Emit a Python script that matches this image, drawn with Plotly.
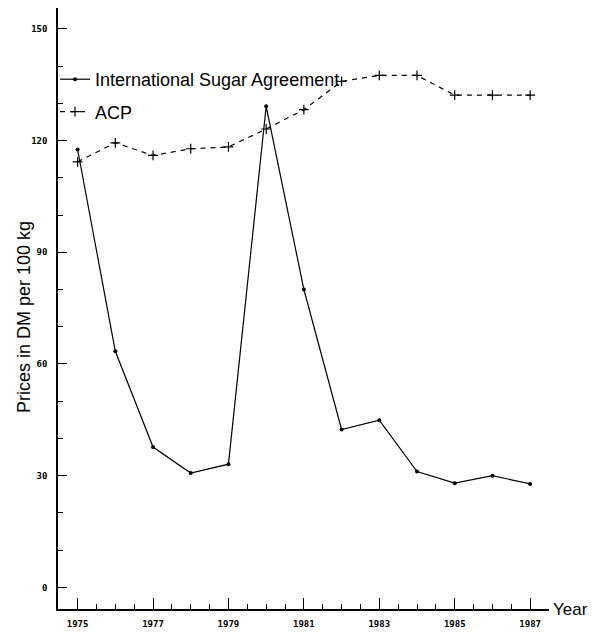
import plotly.graph_objects as go

years = list(range(1975, 1988))
isa_prices = [117.6, 63.4, 37.7, 30.7, 33.1, 129.2, 80.0, 42.4, 44.9, 31.1, 28.0, 30.0, 27.8]
acp_prices = [114.3, 119.4, 116.0, 117.8, 118.3, 123.1, 128.3, 135.9, 137.5, 137.5, 132.2, 132.2, 132.2]
y_ticks = [0, 30, 60, 90, 120, 150]
x_ticks = [1975, 1977, 1979, 1981, 1983, 1985, 1987]

fig = go.Figure()
fig.add_trace(go.Scatter(
    x=years, y=isa_prices, name="International Sugar Agreement",
    mode="lines+markers", legendgroup="a",
    line=dict(color="black", width=1.2),
    marker=dict(symbol="circle", size=4, color="black"),
))
fig.add_trace(go.Scatter(
    x=years, y=acp_prices, name="ACP",
    mode="lines+markers", legendgroup="b",
    line=dict(color="black", width=1.2, dash="5px,5px"),
    marker=dict(symbol="cross-thin", size=7, color="black",
                line=dict(color="black", width=1.2)),
))

tickfont = dict(family="DejaVu Sans Mono", size=9, color="black", weight="bold")

# page body has an 8px margin, so the figure is placed at (8, 8) in the window
OFF = 8
W, H = 598 - OFF, 632 - OFF
L, R, T, B = 58 - OFF, W - (549 - OFF), 0, H - (609 - OFF)
plot_w = W - L - R
plot_h = H - T - B

def px_to_paper(xp, yp):
    return ((xp - OFF - L) / plot_w, (H - B - (yp - OFF)) / plot_h)

ytx, yty = px_to_paper(24, 317)
lgx, lgy = px_to_paper(55, 61)

fig.update_layout(
    width=W, height=H,
    margin=dict(l=L, r=R, t=T, b=B, autoexpand=False),
    paper_bgcolor="white", plot_bgcolor="white",
    font=dict(family="Liberation Sans", color="black"),
    showlegend=True,
    legend=dict(
        x=lgx, y=lgy, xanchor="left", yanchor="top",
        font=dict(family="Liberation Sans", size=18, color="black"),
        bgcolor="rgba(0,0,0,0)", itemwidth=30,
        traceorder="grouped", tracegroupgap=6,
    ),
    xaxis=dict(
        range=[1974.48, 1987.5], tickvals=x_ticks, ticktext=[str(v) for v in x_ticks],
        ticks="inside", ticklen=11, tickwidth=1.2, tickcolor="black",
        minor=dict(dtick=0.5, tick0=1975, ticks="inside", ticklen=5, tickwidth=1, tickcolor="black"),
        showline=True, linecolor="black", linewidth=1.5, automargin=False,
        showgrid=False, zeroline=False, tickfont=tickfont, ticklabelstandoff=5,
    ),
    yaxis=dict(
        range=[-5.8, 155.6], tickvals=y_ticks, ticktext=[str(v) for v in y_ticks],
        ticks="inside", ticklen=9, tickwidth=1.2, tickcolor="black",
        minor=dict(dtick=10, tick0=0, ticks="inside", ticklen=5, tickwidth=1, tickcolor="black"),
        showline=True, linecolor="black", linewidth=1.5, automargin=False,
        showgrid=False, zeroline=False, tickfont=tickfont, ticklabelstandoff=7,
    ),
    annotations=[
        dict(text="Prices in DM per 100 kg", x=ytx, y=yty,
             xref="paper", yref="paper",
             showarrow=False, textangle=-90, font=dict(size=18, family="Liberation Sans"),
             xanchor="center", yanchor="middle"),
        dict(text="Year", x=1.0, y=0.0, xref="paper", yref="paper", xshift=2,
             showarrow=False, xanchor="left", yanchor="middle",
             font=dict(size=17, family="Liberation Sans")),
    ],
)

fig.write_html("out.html")
